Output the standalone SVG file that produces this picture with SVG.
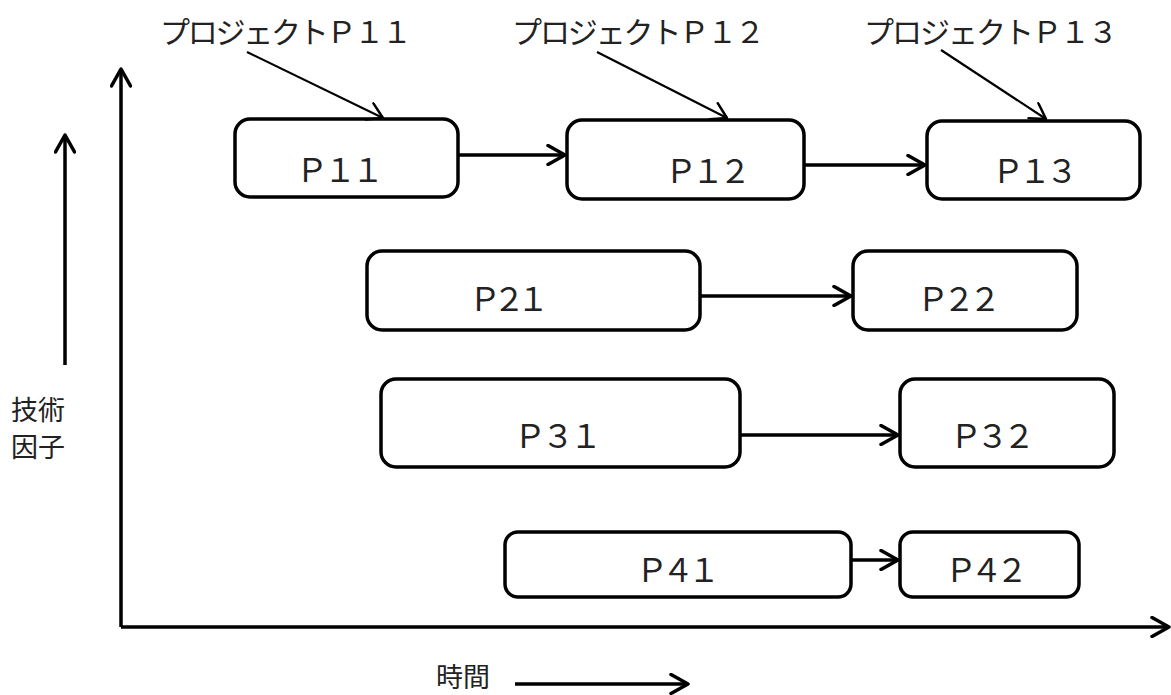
<svg xmlns="http://www.w3.org/2000/svg" width="1171" height="695" viewBox="0 0 1171 695">
  <style>
    .box { fill: #fff; stroke: #000; stroke-width: 3.5; }
    .lbl { font-family: "Noto Sans CJK JP", "Liberation Serif", serif; font-size: 32px; fill: #222; }
    .cap { font-family: "Noto Sans CJK JP", "Liberation Serif", serif; font-size: 30px; fill: #222; }
    .ax { font-family: "Noto Sans CJK JP", "Liberation Sans", sans-serif; font-size: 27px; fill: #222; }
    .ln { stroke: #000; stroke-width: 3.5; fill: none; }
    .thin { stroke: #000; stroke-width: 2.2; fill: none; }
  </style>
  <defs>
    <marker id="head" viewBox="0 0 22 22" refX="20" refY="11" markerWidth="22" markerHeight="22" markerUnits="userSpaceOnUse" orient="auto">
      <path d="M3,1.5 L20,11 L3,20.5" fill="none" stroke="#000" stroke-width="3.5" stroke-linecap="round" stroke-linejoin="round"/>
    </marker>
    <marker id="headThin" viewBox="0 0 20 20" refX="18" refY="10" markerWidth="20" markerHeight="20" markerUnits="userSpaceOnUse" orient="auto">
      <path d="M3,1 L18,10 L3,19" fill="none" stroke="#000" stroke-width="2.5" stroke-linecap="round" stroke-linejoin="round"/>
    </marker>
  </defs>
  <rect width="1171" height="695" fill="#fff"/>

  <!-- axes and axis labels -->
  <g id="axes">
    <path class="ln" d="M121,627 L121,69" marker-end="url(#head)"/>
    <path class="ln" d="M121,627 L1169,627" marker-end="url(#head)"/>
    <path class="ln" d="M65,365 L65,135" marker-end="url(#head)"/>
    <path class="ln" d="M515,684 L688,684" marker-end="url(#head)"/>
    <text class="ax" x="11" y="420">技術</text>
    <text class="ax" x="11" y="457">因子</text>
    <text class="ax" x="436" y="687">時間</text>
  </g>

  <!-- project nodes -->
  <g id="P11"><rect class="box" x="235" y="119" width="223" height="78" rx="15"/><text class="lbl" x="296" y="182" textLength="88">Ｐ１１</text></g>
  <g id="P12"><rect class="box" x="567" y="120" width="237" height="79" rx="15"/><text class="lbl" x="665" y="183" textLength="86">Ｐ１２</text></g>
  <g id="P13"><rect class="box" x="927" y="121" width="213" height="78" rx="15"/><text class="lbl" x="992" y="183" textLength="86">Ｐ１３</text></g>
  <g id="P21"><rect class="box" x="367" y="251" width="333" height="79" rx="15"/><text class="lbl" x="469" y="311" textLength="80">Ｐ２１</text></g>
  <g id="P22"><rect class="box" x="853" y="251" width="224" height="79" rx="15"/><text class="lbl" x="917" y="311" textLength="84">Ｐ２２</text></g>
  <g id="P31"><rect class="box" x="381" y="379" width="359" height="88" rx="15"/><text class="lbl" x="514" y="448" textLength="88">Ｐ３１</text></g>
  <g id="P32"><rect class="box" x="900" y="379" width="214" height="88" rx="15"/><text class="lbl" x="950" y="448" textLength="85">Ｐ３２</text></g>
  <g id="P41"><rect class="box" x="505" y="532" width="346" height="65" rx="13"/><text class="lbl" x="636" y="582" textLength="84">Ｐ４１</text></g>
  <g id="P42"><rect class="box" x="900" y="532" width="179" height="65" rx="13"/><text class="lbl" x="945" y="582" textLength="83">Ｐ４２</text></g>

  <!-- callout captions -->
  <g id="cap11"><text class="cap" x="160" y="43" textLength="252">プロジェクトＰ１１</text></g>
  <g id="cap12"><text class="cap" x="512" y="43" textLength="253">プロジェクトＰ１２</text></g>
  <g id="cap13"><text class="cap" x="864" y="43" textLength="254">プロジェクトＰ１３</text></g>

  <!-- connectors -->
  <g id="connectors">
    <path class="ln" d="M458,155 L565,155" marker-end="url(#head)"/>
    <path class="ln" d="M804,165 L925,165" marker-end="url(#head)"/>
    <path class="ln" d="M700,296 L851,296" marker-end="url(#head)"/>
    <path class="ln" d="M740,435 L898,435" marker-end="url(#head)"/>
    <path class="ln" d="M851,560 L898,560" marker-end="url(#head)"/>
    <path class="thin" d="M247,52 L383,118" marker-end="url(#headThin)"/>
    <path class="thin" d="M597,52 L727,118" marker-end="url(#headThin)"/>
    <path class="thin" d="M941,50 L1046,119" marker-end="url(#headThin)"/>
  </g>
</svg>
